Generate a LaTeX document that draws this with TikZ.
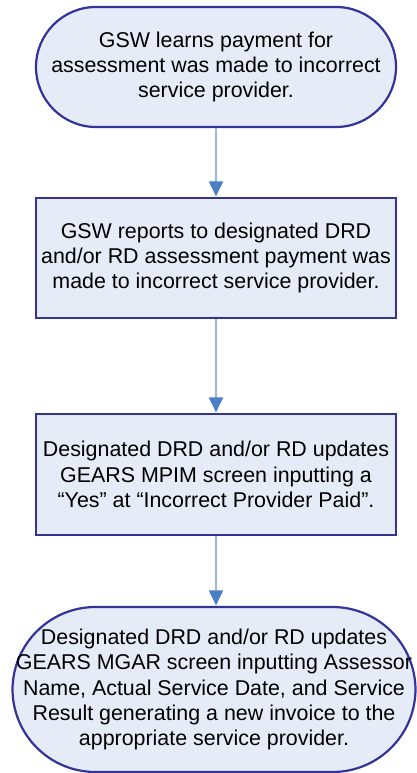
\documentclass[tikz,border=0pt]{standalone}
\usepackage{fontspec}
\setmainfont{Liberation Sans}
\usetikzlibrary{arrows.meta}
\definecolor{boxfill}{HTML}{E6ECF7}
\definecolor{boxdraw}{HTML}{333399}
\definecolor{linecol}{HTML}{9DB5DB}
\definecolor{tipcol}{HTML}{4A7EC7}
\begin{document}
\begin{tikzpicture}[x=1pt,y=1pt,
  flowbox/.style={draw=boxdraw, fill=boxfill, line width=2.2pt, align=center,
    font=\fontsize{21.4}{25.3}\selectfont, inner sep=0pt},
  stadium/.style={flowbox, rounded corners=#1},
  flowarrow/.style={draw=linecol, line width=2pt,
    -{Triangle[width=14pt,length=15pt,fill=tipcol,color=tipcol]}, shorten >=0.5pt}
]
\useasboundingbox (0,0) rectangle (416,-773);
\node[stadium=60pt, minimum width=360pt, minimum height=120pt] (a) at (216,-67)
  {GSW learns payment for\\assessment was made to incorrect\\service provider.};
\node[flowbox, minimum width=360pt, minimum height=120pt] (b) at (216,-258)
  {GSW reports to designated DRD\\and/or RD assessment payment was\\made to incorrect service provider.};
\node[flowbox, minimum width=360pt, minimum height=121pt] (c) at (216,-474.5)
  {Designated DRD and/or RD updates\\GEARS MPIM screen inputting a\\``Yes'' at ``Incorrect Provider Paid''.};
\node[stadium=83pt, minimum width=403pt, minimum height=165pt] (d) at (214,-689.5)
  {Designated DRD and/or RD updates\\GEARS MGAR screen inputting Assessor\\Name, Actual Service Date, and Service\\Result generating a new invoice to the\\appropriate service provider.};
\draw[flowarrow] (a.south) -- (b.north);
\draw[flowarrow] (b.south) -- (c.north);
\draw[flowarrow] (c.south) -- (c.south |- d.north);
\end{tikzpicture}
\end{document}
